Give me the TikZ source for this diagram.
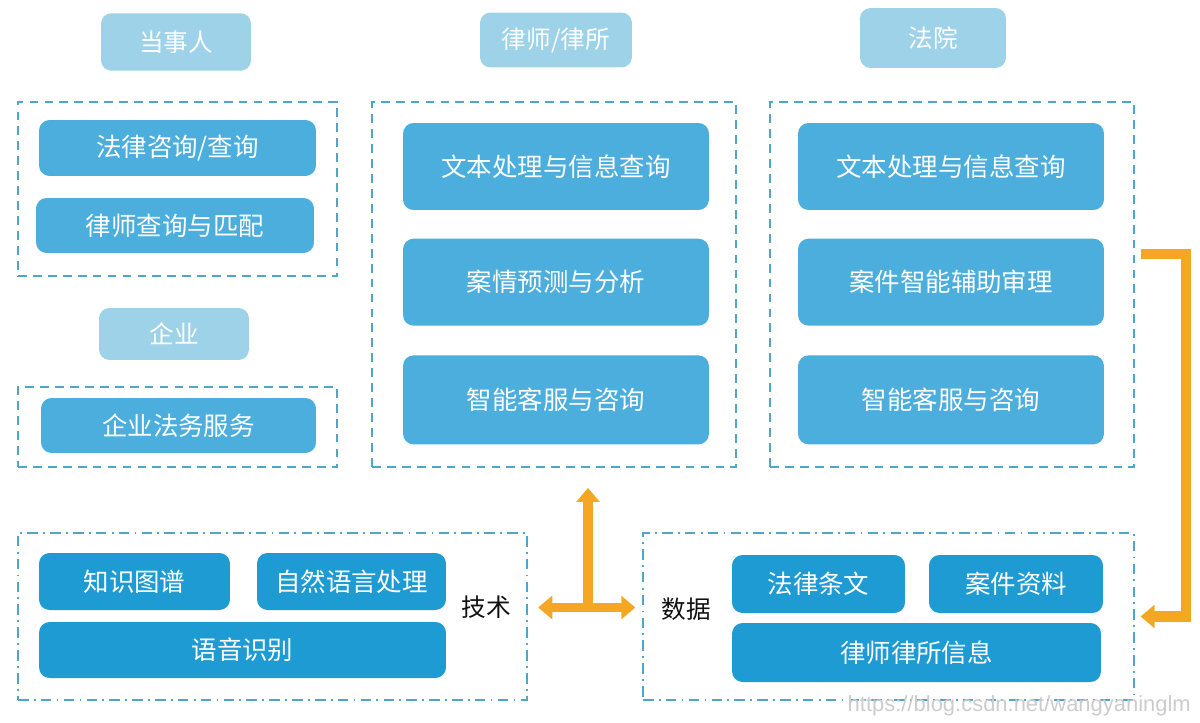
\documentclass[tikz,border=0pt]{standalone}
\usepackage{fontspec}
\setmainfont{Noto Sans CJK SC}
\usepackage{xcolor}
\usepackage{tikz}
\usetikzlibrary{calc,positioning,arrows.meta}
\definecolor{rolefill}{HTML}{9DD2E8}
\definecolor{itemlight}{HTML}{4BAEDD}
\definecolor{itemdark}{HTML}{1E9BD2}
\definecolor{groupline}{HTML}{4FA6C8}
\definecolor{flow}{HTML}{F5A623}
\definecolor{textmain}{HTML}{111111}

\begin{document}
\begin{tikzpicture}[
  x=0.02cm, y=-0.02cm,
  rolebox/.style={
    rectangle, rounded corners=6pt, fill=rolefill, text=white,
    minimum width=3cm, minimum height=1.15cm,
    font=\fontsize{14}{16}\selectfont,
  },
  groupbox/.style={
    rectangle, draw=groupline, line width=1.1pt,
    dash pattern=on 5pt off 3.5pt,
  },
  groupboxdot/.style={
    rectangle, draw=groupline, line width=0.8pt,
    dash pattern=on 6pt off 3pt on 1pt off 3pt,
  },
  itembox/.style={
    rectangle, rounded corners=6pt, text=white,
    font=\fontsize{14.5}{17}\selectfont,
  },
  flowline/.style={
    draw=flow, line width=5.5pt,
    arrows={-Triangle[width=13pt,length=8pt]},
  },
]
\useasboundingbox (0,0) rectangle (1200,723);

% roles
\node[rolebox] (party) at (176,42) {当事人};
\node[rolebox, minimum width=3.04cm, minimum height=1.1cm] (lawyer) at (556,40) {律师/律所};
\node[rolebox, minimum width=2.92cm, minimum height=1.2cm] (court) at (933,38) {法院};
\node[rolebox, minimum height=1.04cm] (firm) at (174,334) {企业};

% groups
\node[groupbox, minimum width=6.38cm, minimum height=3.48cm] (gparty) at (177.5,189) {};
\node[groupbox, minimum width=6.38cm, minimum height=1.6cm] (gfirm) at (177.5,427) {};
\node[groupbox, minimum width=7.28cm, minimum height=7.3cm] (glawyer) at (554,284.5) {};
\node[groupbox, minimum width=7.28cm, minimum height=7.3cm] (gcourt) at (952,284.5) {};
\node[groupboxdot, minimum width=10.18cm, minimum height=3.34cm] (gtech) at (272.5,616.5) {};
\node[groupboxdot, minimum width=9.82cm, minimum height=3.34cm] (gdata) at (888.5,616.5) {};

% party
\node[itembox, fill=itemlight, minimum width=5.54cm, minimum height=1.12cm] (p1) at (177.5,148) {法律咨询/查询};
\node[itembox, fill=itemlight, minimum width=5.56cm, minimum height=1.1cm] (p2) at (175,225.5) {律师查询与匹配};

% firm
\node[itembox, fill=itemlight, minimum width=5.5cm, minimum height=1.1cm] (f1) at (178.5,425.5) {企业法务服务};

% lawyer
\node[itembox, fill=itemlight, minimum width=6.12cm, minimum height=1.74cm] (l1) at (556,166.5) {文本处理与信息查询};
\node[itembox, fill=itemlight, minimum width=6.12cm, minimum height=1.74cm, below=0.56cm of l1] (l2) {案情预测与分析};
\node[itembox, fill=itemlight, minimum width=6.12cm, minimum height=1.78cm, below=0.58cm of l2] (l3) {智能客服与咨询};

% court
\node[itembox, fill=itemlight, minimum width=6.12cm, minimum height=1.74cm] (c1) at (951,166.5) {文本处理与信息查询};
\node[itembox, fill=itemlight, minimum width=6.12cm, minimum height=1.74cm, below=0.56cm of c1] (c2) {案件智能辅助审理};
\node[itembox, fill=itemlight, minimum width=6.12cm, minimum height=1.78cm, below=0.58cm of c2] (c3) {智能客服与咨询};

% tech
\node[itembox, fill=itemdark, minimum width=3.82cm, minimum height=1.14cm] (t1) at (134.5,581.5) {知识图谱};
\node[itembox, fill=itemdark, minimum width=3.78cm, minimum height=1.14cm] (t2) at (351.5,581.5) {自然语言处理};
\node[itembox, fill=itemdark, minimum width=8.14cm, minimum height=1.12cm] (t3) at (242.5,650) {语音识别};
\node[text=textmain, font=\fontsize{14}{16}\selectfont] (techlabel) at (486,607) {技术};

% data
\node[itembox, fill=itemdark, minimum width=3.46cm, minimum height=1.16cm] (d1) at (818.5,584) {法律条文};
\node[itembox, fill=itemdark, minimum width=3.48cm, minimum height=1.16cm] (d2) at (1016,584) {案件资料};
\node[itembox, fill=itemdark, minimum width=7.38cm, minimum height=1.18cm] (d3) at (916.5,652.5) {律师律所信息};
\node[text=textmain, font=\fontsize{14}{16}\selectfont] (datalabel) at (686,609) {数据};

% flows
\coordinate (hub) at ($(gtech.east)!0.5!(gdata.west)+(3,-9)$);
\draw[flowline, shorten >=0.4cm] (hub) -- (hub |- glawyer.south);
\draw[flowline, arrows={Triangle[width=13pt,length=8pt]-Triangle[width=13pt,length=8pt]}, shorten <=6pt, shorten >=4pt] ([yshift=0.18cm]gtech.east) -- ([yshift=0.18cm]gdata.west);
\draw[flowline, line width=6pt] ([xshift=0.12cm,yshift=0.61cm]gcourt.east) -- ++(45,0) |- ([xshift=0.12cm]gdata.east);

\node[anchor=east, text=gray!40, font=\fontspec{Liberation Sans}\fontsize{12.5}{14}\selectfont] (mark) at (1197,706) {https://blog.csdn.net/wangyaninglm};
\end{tikzpicture}
\end{document}
